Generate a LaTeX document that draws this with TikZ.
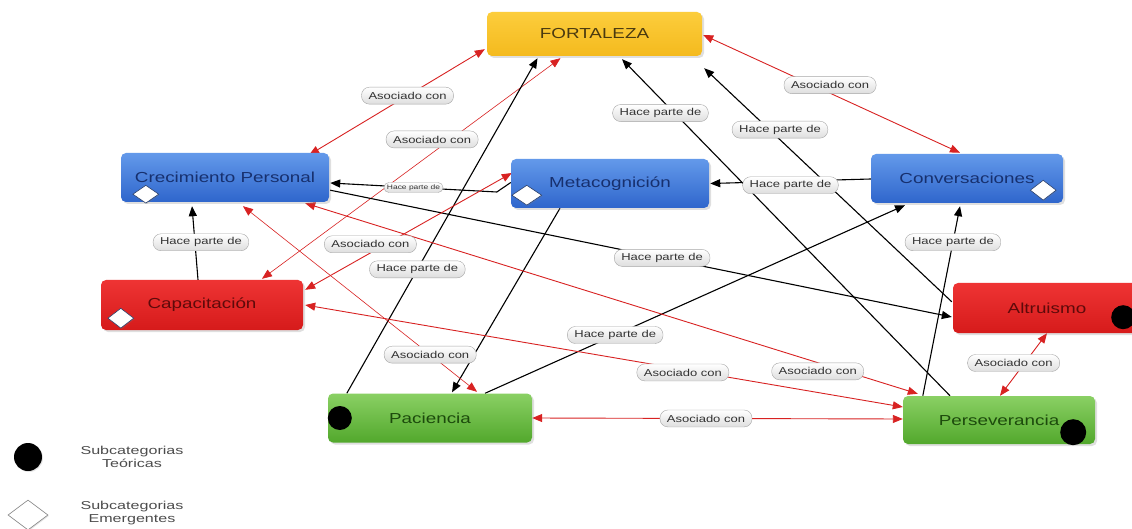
\documentclass[tikz,border=0pt]{standalone}
\usepackage{fontspec}
\setmainfont{Liberation Sans}
\newfontfamily\boxfont[FakeStretch=1.3]{Liberation Sans}
\newfontfamily\pillfont[FakeStretch=1.3]{Liberation Sans}
\newfontfamily\keyfont[FakeStretch=1.4]{Liberation Sans}
\usetikzlibrary{arrows.meta,calc,shadows,shapes.geometric}
\pgfdeclarelayer{paper}
\pgfdeclarelayer{edges}
\pgfdeclarelayer{pills}
\pgfsetlayers{paper,edges,pills,main}

\definecolor{goldtop}{HTML}{FCCD3C}
\definecolor{goldbot}{HTML}{F4BA1E}
\definecolor{goldtxt}{HTML}{4A3A10}
\definecolor{bluetop}{HTML}{6399EA}
\definecolor{bluebot}{HTML}{2F66CC}
\definecolor{bluetxt}{HTML}{17306E}
\definecolor{redtop}{HTML}{EE3434}
\definecolor{redbot}{HTML}{D61B1B}
\definecolor{redtxt}{HTML}{5E0A0A}
\definecolor{greentop}{HTML}{8AD064}
\definecolor{greenbot}{HTML}{52A82C}
\definecolor{greentxt}{HTML}{1C4A0C}
\definecolor{assoc}{HTML}{D82222}
\definecolor{markedge}{HTML}{2A3F6A}

\tikzset{
  concept/.style={rounded corners=5pt, minimum height=49pt, inner sep=0pt,
    font=\boxfont\fontsize{14.5}{16}\selectfont,
    drop shadow={shadow xshift=2pt, shadow yshift=-2pt, opacity=0.25}},
  goldbox/.style={concept, top color=goldtop, bottom color=goldbot, text=goldtxt},
  bluebox/.style={concept, top color=bluetop, bottom color=bluebot, text=bluetxt},
  redbox/.style={concept, top color=redtop, bottom color=redbot, text=redtxt},
  greenbox/.style={concept, top color=greentop, bottom color=greenbot, text=greentxt},
  pill/.style={draw=black!35, top color=white, bottom color=black!13,
    rounded corners=8pt, font=\pillfont\fontsize{10}{12}\selectfont,
    text=black!80, inner xsep=7pt, inner ysep=0pt, minimum height=17pt},
  tinypill/.style={pill, font=\pillfont\fontsize{6.5}{8}\selectfont,
    minimum height=10pt, inner xsep=3pt, rounded corners=5pt},
  partof/.style={draw=black, line width=1.1pt, -{Triangle[length=10pt,width=8pt]}},
  assocline/.style={draw=assoc, line width=0.9pt,
    {Triangle[length=10pt,width=8pt]}-{Triangle[length=10pt,width=8pt]}},
  thinassoc/.style={assocline, line width=0.6pt},
  theory/.style={circle, fill=black, minimum size=24pt, inner sep=0pt},
  emergent/.style={diamond, draw=markedge, line width=0.6pt, fill=white, inner sep=0pt,
    minimum width=26pt, minimum height=18pt,
    drop shadow={shadow xshift=1pt, shadow yshift=-1pt, opacity=0.2}},
  legendtext/.style={font=\keyfont\fontsize{11.5}{12.5}\selectfont, align=center, text=black!70},
}

\begin{document}
\begin{tikzpicture}[x=1pt,y=-1pt]
\useasboundingbox (0,0) rectangle (1132,529);
\begin{pgfonlayer}{paper}
\fill[white] (0,0) rectangle (1132,529);
\end{pgfonlayer}
\clip (0,0) rectangle (1132,529);

% concept boxes
\node[goldbox, minimum width=215pt, minimum height=44pt] (fort) at (594.5,34) {FORTALEZA};
\node[bluebox, minimum width=208pt] (crec) at (225,177.5) {Crecimiento Personal};
\node[bluebox, minimum width=198pt] (meta) at (610,183.5) {Metacognición};
\node[bluebox, minimum width=192pt] (conv) at (967,178.5) {Conversaciones};
\node[redbox, minimum width=202pt, minimum height=50pt] (capa) at (202,305) {Capacitación};
\node[redbox, minimum width=188pt, minimum height=50pt] (altr) at (1047,308) {Altruismo};
\node[greenbox, minimum width=204pt] (paci) at (430,418) {Paciencia};
\node[greenbox, minimum width=192pt, minimum height=48pt] (pers) at (999,420) {Perseverancia};

% category markers
\node[emergent] (crecM) at ($(crec.south west)+(25,-8)$) {};
\node[emergent, minimum width=30pt, minimum height=20pt] (metaM) at ($(meta.south west)+(16,-13)$) {};
\node[emergent, minimum height=20pt] (convM) at ($(conv.south east)+(-20,-13)$) {};
\node[emergent, minimum height=20pt] (capaM) at ($(capa.south west)+(20,-12)$) {};
\node[theory] (altrM) at ($(altr.south east)+(-18,-16)$) {};
\node[theory] (paciM) at ($(paci.west)+(12,0)$) {};
\node[theory, minimum size=26pt] (persM) at ($(pers.south east)+(-22,-12)$) {};

% connectors
\begin{pgfonlayer}{edges}
\draw[assocline] ($(fort.south west)+(-2,-7)$) -- coordinate[pos=0.44] (p1) ($(crec.north east)+(-20,2)$);
\draw[thinassoc] ($(capa.north)+(60,-1)$) -- coordinate[pos=0.6] (p2) ($(fort.south)+(-34,2)$);
\draw[partof] ($(paci.north west)+(19,0)$) -- coordinate[pos=0.37] (p3) ($(fort.south)+(-57,2)$);
\draw[partof] ($(meta.south)+(-50,0)$) -- ($(paci.north)+(22,-1)$);
\draw[partof] ($(paci.north)+(55,0)$) -- coordinate[pos=0.31] (p5) ($(conv.south)+(-62,2)$);
\draw[partof] ($(meta.west)+(0,-1)$) -- ($(meta.west)+(-14,8.5)$) -- coordinate[pos=0.5] (p6) ($(crec.east)+(1,5.5)$);
\draw[partof] ($(conv.west)+(0,0.5)$) -- coordinate[pos=0.5] (p7) ($(meta.east)+(1,0)$);
\draw[partof] ($(crec.south east)+(1,-12)$) -- coordinate[pos=0.534] (p8) ($(altr.west)+(-1,9)$);
\draw[assocline] ($(capa.north east)+(2,10)$) -- coordinate[pos=0.33] (p9) ($(meta.west)+(1,-10.5)$);
\draw[thinassoc] ($(crec.south)+(18,4)$) -- coordinate[pos=0.8] (p10) ($(paci.north)+(47,-1.5)$);
\draw[assocline] ($(crec.south east)+(-24,1)$) -- coordinate[pos=0.835] (p11) ($(pers.north west)+(15,-2)$);
\draw[assocline] ($(capa.east)+(2,0)$) -- coordinate[pos=0.632] (p12) ($(pers.west)+(0,-13)$);
\draw[assocline] (paci.east) -- coordinate[pos=0.469] (p13) ($(pers.west)+(0,-1)$);
\draw[assocline] (altr.south) -- coordinate[pos=0.476] (p14) ($(pers.north)+(1,0)$);
\draw[assocline] ($(fort.east)+(1,1)$) -- coordinate[pos=0.494] (p15) ($(conv.north)+(-7,-1)$);
\draw[partof] ($(pers.north)+(-49,0)$) -- coordinate[pos=0.84] (p16) ($(fort.south)+(27.5,3)$);
\draw[partof] ($(altr.north west)+(-1,19)$) -- coordinate[pos=0.694] (p17) ($(fort.south east)+(2,12)$);
\draw[partof] ($(pers.north west)+(20,0)$) -- coordinate[pos=0.81] (p18) ($(conv.south)+(-7,3)$);
\draw[partof] ($(capa.north)+(-4,0)$) -- coordinate[pos=0.51] (p19) ($(crec.south)+(-33,4)$);
\end{pgfonlayer}

% connector labels
\begin{pgfonlayer}{pills}
\node[pill] (l1) at (p1) {Asociado con};
\node[pill] (l2) at ($(p2)+(-9,-7)$) {Asociado con};
\node[pill] (l3) at (p3) {Hace parte de};
\node[pill] (l5) at (p5) {Hace parte de};
\node[tinypill] (l6) at (p6) {Hace parte de};
\node[pill] (l7) at ($(p7)+(0,4)$) {Hace parte de};
\node[pill] (l8) at (p8) {Hace parte de};
\node[pill] (l9) at ($(p9)+(-3,-7)$) {Asociado con};
\node[pill] (l10) at (p10) {Asociado con};
\node[pill] (l11) at ($(p11)+(1,9)$) {Asociado con};
\node[pill] (l12) at ($(p12)+(0,3)$) {Asociado con};
\node[pill] (l13) at (p13) {Asociado con};
\node[pill] (l14) at ($(p14)+(-11,0)$) {Asociado con};
\node[pill] (l15) at ($(p15)+(0,-8)$) {Asociado con};
\node[pill] (l16) at ($(p16)+(-14,0)$) {Hace parte de};
\node[pill] (l17) at ($(p17)+(0,-10)$) {Hace parte de};
\node[pill] (l18) at (p18) {Hace parte de};
\node[pill] (l19) at ($(p19)+(6,0)$) {Hace parte de};
\end{pgfonlayer}

% legend
\node[theory, minimum size=28pt, drop shadow={shadow xshift=1pt, shadow yshift=-1pt, opacity=0.2}] (legT) at (28,457) {};
\node[legendtext] (legTt) at (132,457) {Subcategorias\\Teóricas};
\node[emergent, draw=black!50, minimum width=40pt, minimum height=30pt] (legE) at (28,515) {};
\node[legendtext] (legEt) at (132,513) {Subcategorias\\Emergentes};
\end{tikzpicture}
\end{document}
